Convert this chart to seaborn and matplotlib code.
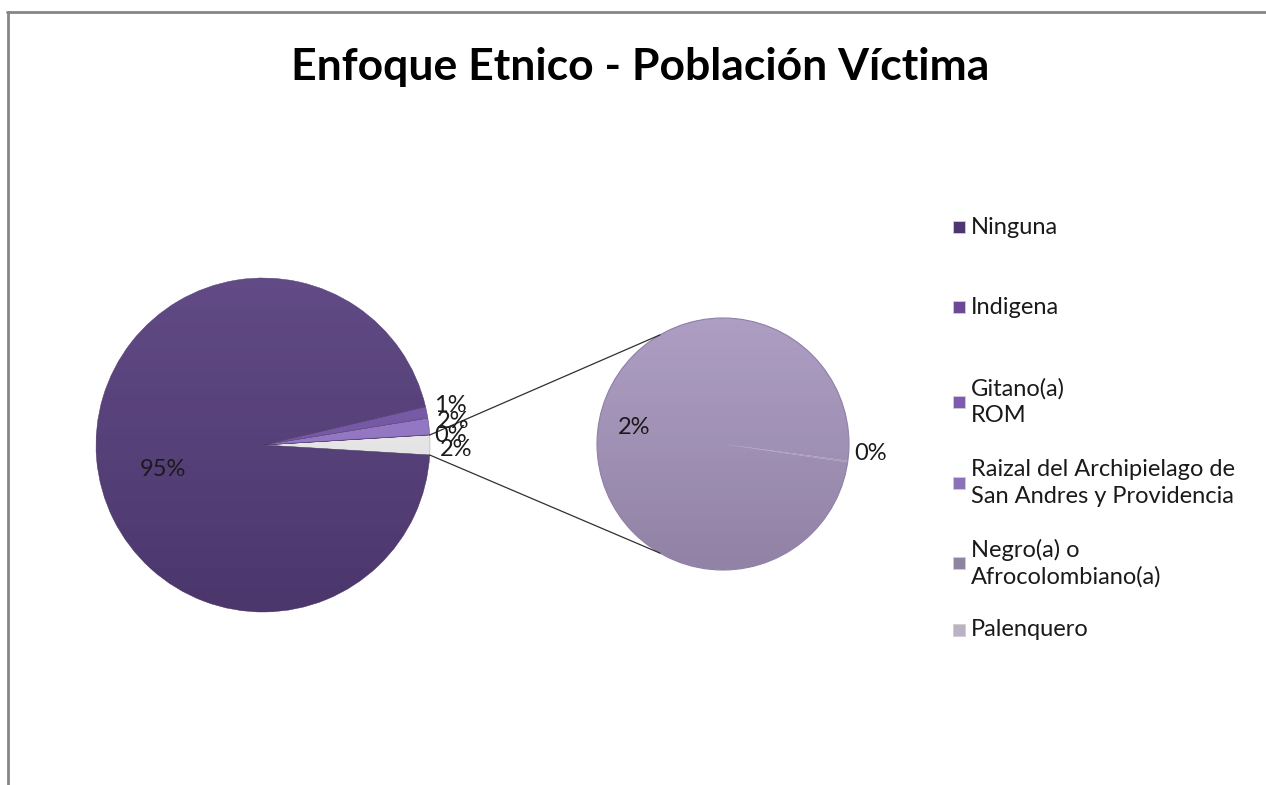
import numpy as np
import matplotlib
matplotlib.use("Agg")
import matplotlib.pyplot as plt
import seaborn as sns
from matplotlib.patches import Rectangle, Circle
from matplotlib.lines import Line2D

sns.set_theme(style="white")
plt.rcParams['font.family'] = ['Lato', 'DejaVu Sans']

# datos (porcentaje de la poblacion victima)
categorias = ['Ninguna', 'Indigena', 'Gitano(a)\nROM',
              'Raizal del Archipielago de\nSan Andres y Providencia',
              'Negro(a) o\nAfrocolombiano(a)', 'Palenquero']
valores = [95.2, 1.1, 1.6, 0.02, 1.9, 0.004]

colores_pie = ['#58407e', '#7a5aae', '#9a7bd0', '#ad92dc', '#a998c0', '#b3a6c8']
colores_leyenda = ['#4e3570', '#6a4a96', '#7d5bb0', '#8c70b8', '#8f849f', '#b9b3c4']

ninguna, indigena, gitano, raizal, negro, palenquero = valores
otros = negro + palenquero

W, H = 1266, 785
fig = plt.figure(figsize=(W / 100, H / 100), dpi=100)
ax = fig.add_axes([0, 0, 1, 1])

# pastel principal
c1, r1 = (263, H - 445), 167
main_vals = [otros, raizal, gitano, indigena, ninguna]
main_cols = ['#f6f6f6', colores_pie[3], colores_pie[2], colores_pie[1], colores_pie[0]]
otros_deg = 360 * otros / sum(main_vals)
w1, _ = ax.pie(main_vals, colors=main_cols, startangle=-otros_deg / 2,
               counterclock=True, center=c1, radius=r1,
               wedgeprops=dict(edgecolor='#4a3568', linewidth=0.3))
w1[0].set_edgecolor('#a0a0a0')

# pastel secundario
c2, r2 = (723, H - 444), 126
sec_vals = [palenquero, negro]
pal_deg = 360 * palenquero / sum(sec_vals)
w2, _ = ax.pie(sec_vals, colors=[colores_pie[5], colores_pie[4]],
               startangle=-8 - pal_deg / 2, counterclock=True, center=c2, radius=r2,
               wedgeprops=dict(linewidth=0))
ax.add_patch(Circle(c2, r2, fill=False, edgecolor='#8f80a8', lw=0.8, zorder=3))

# sombreado tipo Excel
grad = np.zeros((256, 2, 4))
grad[..., 3] = np.linspace(0.14, 0.0, 256)[:, None]
light = np.ones((256, 2, 4))
light[..., 3] = np.linspace(0.0, 0.06, 256)[:, None]
for w, (c, r) in [(w, (c1, r1)) for w in w1] + [(w, (c2, r2)) for w in w2]:
    ext = [c[0] - r, c[0] + r, c[1] - r, c[1] + r]
    im = ax.imshow(grad, extent=ext, origin='lower', aspect='auto', zorder=2)
    im.set_clip_path(w)
    im2 = ax.imshow(light, extent=ext, origin='lower', aspect='auto', zorder=2)
    im2.set_clip_path(w)

# lineas de conexion
a_top = np.deg2rad(otros_deg / 2)
a_bot = np.deg2rad(-otros_deg / 2)
for a1, a2 in [(a_top, np.deg2rad(120)), (a_bot, np.deg2rad(240))]:
    ax.plot([c1[0] + r1 * np.cos(a1), c2[0] + r2 * np.cos(a2)],
            [c1[1] + r1 * np.sin(a1), c2[1] + r2 * np.sin(a2)],
            color='#303030', lw=0.9, zorder=3)

# etiquetas de porcentaje
pos_main = [(163, 470), (450, 406), (453, 421), (451, 436), (456, 450)]
vals_main = [ninguna, indigena, gitano, raizal, otros]
for (x, y), v in zip(pos_main, vals_main):
    ax.text(x, H - y, f'{v:.0f}%', fontsize=17, color='#1a1a1a',
            ha='center', va='center', zorder=5)
for (x, y), v in zip([(634, 427), (871, 453)], [negro, palenquero]):
    ax.text(x, H - y, f'{v:.0f}%', fontsize=17, color='#1a1a1a',
            ha='center', va='center', zorder=5)

# leyenda
ley_y = [227, 307, 402, 483, 563, 630]
for cat, col, y in zip(categorias, colores_leyenda, ley_y):
    ax.add_patch(Rectangle((953, H - y - 6), 12, 12, facecolor=col,
                           edgecolor='#cfcfcf', lw=0.6, zorder=5))
    ax.text(971, H - y, cat, fontsize=17, color='#1a1a1a', va='center',
            ha='left', linespacing=1.3, zorder=5)

ax.set_xlim(0, W)
ax.set_ylim(0, H)
ax.set_aspect('auto')
ax.axis('off')

fig.text(640 / W, 1 - 67 / H, 'Enfoque Etnico - Población Víctima',
         fontsize=32, fontweight='bold', ha='center', va='center', color='black')

# marco del grafico
fig.add_artist(Line2D([7 / W, 1], [1 - 12 / H, 1 - 12 / H], color='#868686', lw=2))
fig.add_artist(Line2D([8 / W, 8 / W], [0, 1 - 12 / H], color='#868686', lw=2))

fig.savefig('out.png', dpi=100)
